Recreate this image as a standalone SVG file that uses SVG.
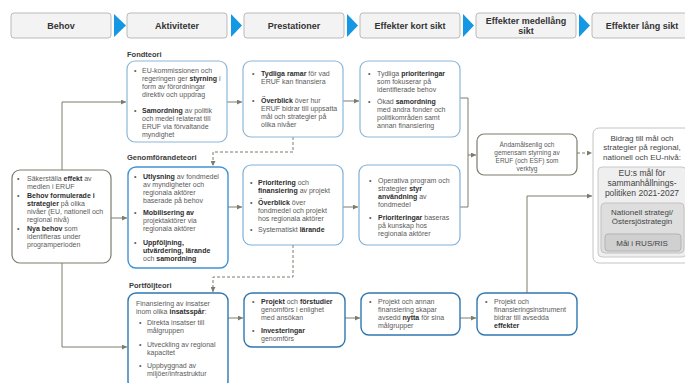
<svg xmlns="http://www.w3.org/2000/svg" width="685" height="383" viewBox="0 0 685 383">
<defs>
<style>
.hdr{fill:#f3f3f3;stroke:#a9a9a9;stroke-width:0.8}
.tri{fill:#1598e3}
.ht{font-family:"Liberation Sans",Arial,sans-serif;font-size:9px;font-weight:bold;fill:#333;text-anchor:middle}
.sec{font-family:"Liberation Sans",Arial,sans-serif;font-size:7.5px;font-weight:bold;fill:#3a3a3a}
.t{font-family:"Liberation Sans",Arial,sans-serif;font-size:7px;fill:#5a5a5a}
.tc{text-anchor:middle}
.b{font-weight:bold;fill:#2e2e2e}
.fond{fill:#fff;stroke:#8cb7d8;stroke-width:1.2}
.gen1{fill:#fff;stroke:#3f93d4;stroke-width:1.4}
.gen{fill:#fff;stroke:#7fb0d8;stroke-width:1.2}
.port{fill:#fff;stroke:#2f77b0;stroke-width:1.4}
.grey{fill:#fff;stroke:#7c7c6c;stroke-width:1.2}
.conn{fill:none;stroke:#7c7c6c;stroke-width:1}
.dash{stroke-dasharray:3 2}
.lt{font-family:"Liberation Sans",Arial,sans-serif;font-size:8px;fill:#444;text-anchor:middle}
</style>
<marker id="ah" markerWidth="5" markerHeight="5" refX="5" refY="2.5" orient="auto" markerUnits="userSpaceOnUse">
<path d="M0,0 L5,2.5 L0,5 z" fill="#7c7c6c"/>
</marker>
</defs>
<rect width="685" height="383" fill="#fff"/>

<g id="headers">
<rect class="hdr" x="11" y="13" width="100" height="25" rx="3"/>
<text class="ht" x="61" y="29">Behov</text>
<polygon class="tri" points="114,14 126,25.5 114,37"/>
<rect class="hdr" x="127" y="13" width="100" height="25" rx="3"/>
<text class="ht" x="177" y="29">Aktiviteter</text>
<polygon class="tri" points="231,14 242,25.5 231,37"/>
<rect class="hdr" x="244" y="13" width="100" height="25" rx="3"/>
<text class="ht" x="294" y="29">Prestationer</text>
<polygon class="tri" points="347,14 358,25.5 347,37"/>
<rect class="hdr" x="360" y="13" width="100" height="25" rx="3"/>
<text class="ht" x="410" y="29">Effekter kort sikt</text>
<polygon class="tri" points="463,14 474,25.5 463,37"/>
<rect class="hdr" x="476" y="13" width="100" height="25" rx="3"/>
<text class="ht" x="526" y="23.5">Effekter medellång</text>
<text class="ht" x="526" y="33.5">sikt</text>
<polygon class="tri" points="579,14 590,25.5 579,37"/>
<rect class="hdr" x="592" y="13" width="100" height="25" rx="3"/>
<text class="ht" x="642" y="29">Effekter lång sikt</text>
</g>

<g id="labels">
<text class="sec" x="127" y="57">Fondteori</text>
<text class="sec" x="127" y="160">Genomförandeteori</text>
<text class="sec" x="129" y="288">Portföljteori</text>
</g>

<g id="connectors">
<path class="conn" d="M62,170 V102 H126" marker-end="url(#ah)"/>
<path class="conn" d="M111,218 H127" marker-end="url(#ah)"/>
<path class="conn" d="M62,263 V347 H127" marker-end="url(#ah)"/>
<path class="conn" d="M227,102 H242" marker-end="url(#ah)"/>
<path class="conn" d="M343,101 H359" marker-end="url(#ah)"/>
<path class="conn" d="M460,98 H468 V155 H476" marker-end="url(#ah)"/>
<path class="conn" d="M460,207 H468 V155"/>
<path class="conn" d="M228,207 H242" marker-end="url(#ah)"/>
<path class="conn" d="M343,207 H358" marker-end="url(#ah)"/>
<path class="conn dash" d="M293,137 V152 H213 V166" marker-end="url(#ah)"/>
<path class="conn dash" d="M293,245 V277 H213 V292" marker-end="url(#ah)"/>
<path class="conn" d="M228,318 H243" marker-end="url(#ah)"/>
<path class="conn" d="M345,318 H360" marker-end="url(#ah)"/>
<path class="conn" d="M460,318 H476" marker-end="url(#ah)"/>
<path class="conn" d="M527,293 V196 H592" marker-end="url(#ah)"/>
<path class="conn dash" d="M577,153 H592" marker-end="url(#ah)"/>
</g>

<g id="behov">
<rect class="grey" x="12" y="170" width="99" height="93" rx="8"/>
<text class="t"><tspan x="17" y="180.5">•</tspan><tspan x="27" y="180.5">Säkerställa <tspan class="b">effekt</tspan> av</tspan><tspan x="27" y="188.5">medlen i ERUF</tspan>
<tspan x="17" y="197.5">•</tspan><tspan x="27" y="197.5" class="b">Behov formulerade i</tspan><tspan x="27" y="205.5"><tspan class="b">strategier</tspan> på olika</tspan><tspan x="27" y="213.5">nivåer (EU, nationell och</tspan><tspan x="27" y="221.5">regional nivå)</tspan>
<tspan x="17" y="230.5">•</tspan><tspan x="27" y="230.5"><tspan class="b">Nya behov</tspan> som</tspan><tspan x="27" y="238.5">identifieras under</tspan><tspan x="27" y="246.5">programperioden</tspan></text>
</g>

<g id="fond-akt">
<rect class="fond" x="127" y="61" width="100" height="81" rx="8"/>
<text class="t"><tspan x="134" y="73">•</tspan><tspan x="142" y="73">EU-kommissionen och</tspan><tspan x="142" y="81">regeringen ger <tspan class="b">styrning</tspan> i</tspan><tspan x="142" y="89">form av förordningar</tspan><tspan x="142" y="97">direktiv och uppdrag</tspan>
<tspan x="134" y="112.5">•</tspan><tspan x="142" y="112.5"><tspan class="b">Samordning</tspan> av politik</tspan><tspan x="142" y="120.5">och medel relaterat till</tspan><tspan x="142" y="128.5">ERUF via förvaltande</tspan><tspan x="142" y="136.5">myndighet</tspan></text>
</g>

<g id="fond-prest">
<rect class="fond" x="243" y="61" width="100" height="76" rx="8"/>
<text class="t"><tspan x="252" y="75.5">•</tspan><tspan x="261" y="75.5"><tspan class="b">Tydliga ramar</tspan> för vad</tspan><tspan x="261" y="83.5">ERUF kan finansiera</tspan>
<tspan x="252" y="102.5">•</tspan><tspan x="261" y="102.5"><tspan class="b">Överblick</tspan> över hur</tspan><tspan x="261" y="110.5">ERUF bidrar till uppsatta</tspan><tspan x="261" y="118.5">mål och strategier på</tspan><tspan x="261" y="126.5">olika nivåer</tspan></text>
</g>

<g id="fond-kort">
<rect class="fond" x="360" y="61" width="100" height="76" rx="8"/>
<text class="t"><tspan x="368" y="75.5">•</tspan><tspan x="377" y="75.5">Tydliga <tspan class="b">prioriteringar</tspan></tspan><tspan x="377" y="83.5">som fokuserar på</tspan><tspan x="377" y="91.5">identifierade behov</tspan>
<tspan x="368" y="104">•</tspan><tspan x="377" y="104">Ökad <tspan class="b">samordning</tspan></tspan><tspan x="377" y="112">med andra fonder och</tspan><tspan x="377" y="120">politikområden samt</tspan><tspan x="377" y="128">annan finansiering</tspan></text>
</g>

<g id="gen-akt">
<rect class="gen1" x="128" y="167" width="100" height="101" rx="8"/>
<text class="t"><tspan x="134" y="178.5">•</tspan><tspan x="143" y="178.5"><tspan class="b">Utlysning</tspan> av fondmedel</tspan><tspan x="143" y="186.5">av myndigheter och</tspan><tspan x="143" y="194.5">regionala aktörer</tspan><tspan x="143" y="202.5">baserade på behov</tspan>
<tspan x="134" y="215">•</tspan><tspan x="143" y="215" class="b">Mobilisering av</tspan><tspan x="143" y="223">projektaktörer via</tspan><tspan x="143" y="231">regionala aktörer</tspan>
<tspan x="134" y="245">•</tspan><tspan x="143" y="245" class="b">Uppföljning,</tspan><tspan x="143" y="253" class="b">utvärdering, lärande</tspan><tspan x="143" y="261">och <tspan class="b">samordning</tspan></tspan></text>
</g>

<g id="gen-prest">
<rect class="gen" x="243" y="165" width="100" height="80" rx="8"/>
<text class="t"><tspan x="250" y="185">•</tspan><tspan x="258" y="185"><tspan class="b">Prioritering</tspan> och</tspan><tspan x="258" y="193"><tspan class="b">finansiering</tspan> av projekt</tspan>
<tspan x="250" y="205">•</tspan><tspan x="258" y="205"><tspan class="b">Överblick</tspan> över</tspan><tspan x="258" y="213">fondmedel och  projekt</tspan><tspan x="258" y="221">hos regionala aktörer</tspan>
<tspan x="250" y="231.5">•</tspan><tspan x="258" y="231.5">Systematiskt <tspan class="b">lärande</tspan></tspan></text>
</g>

<g id="gen-kort">
<rect class="gen" x="359" y="165" width="101" height="80" rx="8"/>
<text class="t"><tspan x="369" y="183">•</tspan><tspan x="378" y="183">Operativa program och</tspan><tspan x="378" y="191">strategier <tspan class="b">styr</tspan></tspan><tspan x="378" y="199"><tspan class="b">användning</tspan> av</tspan><tspan x="378" y="207">fondmedel</tspan>
<tspan x="369" y="219.5">•</tspan><tspan x="378" y="219.5"><tspan class="b">Prioriteringar</tspan> baseras</tspan><tspan x="378" y="227.5">på kunskap hos</tspan><tspan x="378" y="235.5">regionala aktörer</tspan></text>
</g>

<g id="port-akt">
<rect class="port" x="128" y="293" width="100" height="96" rx="8"/>
<text class="t"><tspan x="136" y="305.5">Finansiering av insatser</tspan><tspan x="136" y="313.5">inom olika <tspan class="b">insatsspår</tspan>:</tspan>
<tspan x="139" y="325">•</tspan><tspan x="147" y="325">Direkta insatser till</tspan><tspan x="147" y="333">målgruppen</tspan>
<tspan x="139" y="346.5">•</tspan><tspan x="147" y="346.5">Utveckling av regional</tspan><tspan x="147" y="354.5">kapacitet</tspan>
<tspan x="139" y="367.5">•</tspan><tspan x="147" y="367.5">Uppbyggnad av</tspan><tspan x="147" y="375.5">miljöer/infrastruktur</tspan></text>
</g>

<g id="port-prest">
<rect class="port" x="244" y="293" width="101" height="54" rx="8"/>
<text class="t"><tspan x="252" y="304">•</tspan><tspan x="261" y="304"><tspan class="b">Projekt</tspan> och <tspan class="b">förstudier</tspan></tspan><tspan x="261" y="312">genomförs i enlighet</tspan><tspan x="261" y="320">med ansökan</tspan>
<tspan x="252" y="332.5">•</tspan><tspan x="261" y="332.5" class="b">Investeringar</tspan><tspan x="261" y="340.5">genomförs</tspan></text>
</g>

<g id="port-kort">
<rect class="port" x="361" y="293" width="99" height="42" rx="8"/>
<text class="t"><tspan x="369" y="304">•</tspan><tspan x="378" y="304">Projekt och annan</tspan><tspan x="378" y="312">finansiering skapar</tspan><tspan x="378" y="320">avsedd <tspan class="b">nytta</tspan> för sina</tspan><tspan x="378" y="328">målgrupper</tspan></text>
</g>

<g id="port-medel">
<rect class="port" x="477" y="293" width="100" height="42" rx="8"/>
<text class="t"><tspan x="485" y="304">•</tspan><tspan x="494" y="304">Projekt och</tspan><tspan x="494" y="312">finansieringsinstrument</tspan><tspan x="494" y="320">bidrar till avsedda</tspan><tspan x="494" y="328" class="b">effekter</tspan></text>
</g>

<g id="andamal">
<rect class="grey" x="477" y="134" width="100" height="41" rx="7"/>
<text class="t tc" style="font-size:6.5px"><tspan x="527" y="146.5">Ändamålsenlig och</tspan><tspan x="527" y="154.5">gemensam styrning av</tspan><tspan x="527" y="162.5">ERUF (och ESF) som</tspan><tspan x="527" y="170.5">verktyg</tspan></text>
</g>

<g id="lang-sikt">
<rect x="593" y="128" width="100" height="135" rx="6" fill="#fff" stroke="#c4c4c4" stroke-width="1"/>
<text class="lt"><tspan x="642" y="141">Bidrag till mål och</tspan><tspan x="642" y="150">strategier på regional,</tspan><tspan x="642" y="159.5">nationell och EU-nivå:</tspan></text>
<rect x="598" y="167" width="88" height="90" rx="4" fill="#efefef" stroke="#c8c8c8" stroke-width="1"/>
<text class="lt" style="font-size:8.5px"><tspan x="642" y="176">EU:s mål för</tspan><tspan x="642" y="185.5">sammanhållnings-</tspan><tspan x="642" y="195.5">politiken 2021-2027</tspan></text>
<rect x="601" y="203" width="83" height="50" rx="4" fill="#dedede" stroke="#c2c2c2" stroke-width="1"/>
<text class="lt"><tspan x="642" y="214.5">Nationell strategi/</tspan><tspan x="642" y="223.5">Östersjöstrategin</tspan></text>
<rect x="605" y="234" width="76" height="17" rx="3" fill="#d0d0d0" stroke="#b3b3b3" stroke-width="1"/>
<text class="lt" x="642" y="245.5">Mål i RUS/RIS</text>
</g>
</svg>
